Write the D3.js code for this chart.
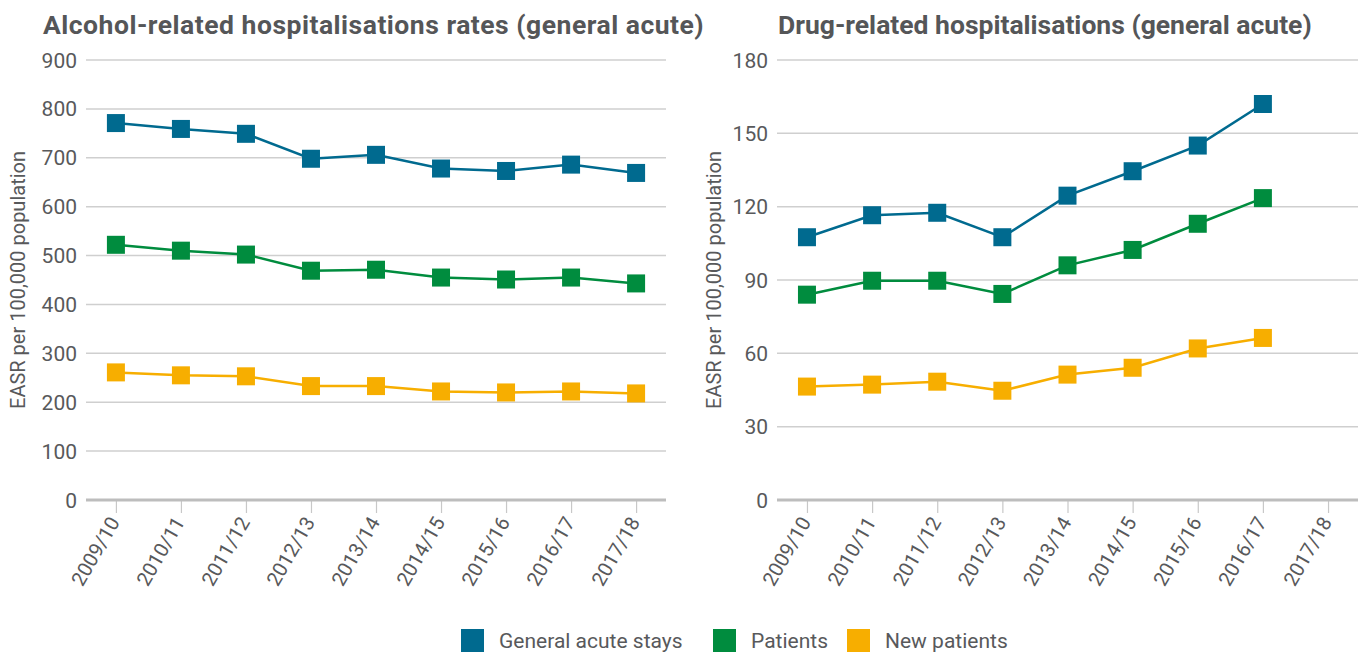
<!DOCTYPE html>
<html>
<head>
<meta charset="utf-8">
<script src="https://cdn.jsdelivr.net/npm/d3@7"></script>
<style>
  body { margin: 0; background: #fff; }
  text { font-family: Roboto, "Noto Sans", sans-serif; fill: #58595b; }
</style>
</head>
<body>
<svg id="svg" width="1363" height="652"></svg>
<script>
var years = ["2009/10", "2010/11", "2011/12", "2012/13", "2013/14", "2014/15", "2015/16", "2016/17", "2017/18"];

var alcoholStays = [771, 759, 749, 698, 706, 678, 673, 686, 669];
var alcoholPatients = [522, 510, 502, 469, 471, 455, 451, 455, 443];
var alcoholNew = [261, 255, 253, 233, 233, 222, 220, 222, 218];

// no 2017/18 figures for drugs
var drugStays = [107.5, 116.5, 117.5, 107.5, 124.5, 134.5, 145, 162];
var drugPatients = [84, 89.7, 89.7, 84.3, 96, 102.3, 113, 123.5];
var drugNew = [46.4, 47.2, 48.4, 44.7, 51.3, 54.1, 62, 66.3];

var alcoholTicks = [0, 100, 200, 300, 400, 500, 600, 700, 800, 900];
var drugTicks = [0, 30, 60, 90, 120, 150, 180];

var seriesNames = ["General acute stays", "Patients", "New patients"];
var colors = ["#006a8f", "#008c3e", "#f7ae00"];

var svg = d3.select("svg");
var plotTop = 60, plotBottom = 500;

function drawPanel(opts) {
    var g = svg.append("g");
    var x = d3.scalePoint().domain(years).range([opts.x0, opts.x1]).padding(0.46);
    var y = d3.scaleLinear().domain([0, opts.max]).range([plotBottom, plotTop]);

    g.append("text")
        .attr("x", opts.titleX)
        .attr("y", 34)
        .style("font-size", "26.5px")
        .style("font-weight", "bold")
        .style("letter-spacing", opts.titleSpacing)
        .style("fill", "#555658")
        .text(opts.title);

    // gridlines
    g.selectAll(".grid")
        .data(opts.ticks.filter(function(d) { return d > 0; }))
        .enter().append("line")
        .attr("x1", opts.x0).attr("x2", opts.x1)
        .attr("y1", function(d) { return y(d); })
        .attr("y2", function(d) { return y(d); })
        .attr("stroke", "#cfcfcf")
        .attr("stroke-width", 1.5);

    g.selectAll(".ylab")
        .data(opts.ticks)
        .enter().append("text")
        .attr("x", opts.x0 - 9)
        .attr("y", function(d) { return y(d); })
        .attr("dy", "0.36em")
        .attr("text-anchor", "end")
        .style("font-size", "21px")
        .text(function(d) { return d; });

    // x axis
    var xAxis = g.append("g")
        .attr("transform", "translate(0," + plotBottom + ")")
        .call(d3.axisBottom(x).tickSize(13).tickPadding(8));
    xAxis.select(".domain").remove();
    xAxis.selectAll(".tick line").attr("stroke", "#c8c8c8").attr("stroke-width", 1.2);
    xAxis.selectAll(".tick text")
        .style("font-size", "20px")
        .style("fill", "#58595b")
        .attr("text-anchor", "end")
        .attr("dy", "0.35em")
        .attr("transform", "translate(0,15) rotate(-60)")
        .attr("x", -4)
        .attr("y", 0);

    g.append("line")
        .attr("x1", opts.x0).attr("x2", opts.x1)
        .attr("y1", plotBottom).attr("y2", plotBottom)
        .attr("stroke", "#bdbdbd")
        .attr("stroke-width", 3);

    g.append("text")
        .attr("transform", "translate(" + opts.labelX + "," + ((plotTop + plotBottom) / 2) + ") rotate(-90)")
        .attr("text-anchor", "middle")
        .style("font-size", "20px")
        .text("EASR per 100,000 population");

    var line = d3.line()
        .x(function(d, i) { return x(years[i]); })
        .y(function(d) { return y(d); });

    opts.series.forEach(function(vals, k) {
        g.append("path")
            .datum(vals)
            .attr("d", line)
            .attr("fill", "none")
            .attr("stroke", colors[k])
            .attr("stroke-width", 2.5);

        g.selectAll(".pt" + k)
            .data(vals)
            .enter().append("rect")
            .attr("x", function(d, i) { return x(years[i]) - 9; })
            .attr("y", function(d) { return y(d) - 9; })
            .attr("width", 18)
            .attr("height", 18)
            .attr("fill", colors[k]);
    });
}

drawPanel({
    title: "Alcohol-related hospitalisations rates (general acute)",
    titleX: 43, titleSpacing: "0.5px", x0: 86, x1: 666, labelX: 25, max: 900,
    ticks: alcoholTicks,
    series: [alcoholStays, alcoholPatients, alcoholNew]
});

drawPanel({
    title: "Drug-related hospitalisations (general acute)",
    titleX: 778, titleSpacing: "0px", x0: 777, x1: 1358, labelX: 721, max: 180,
    ticks: drugTicks,
    series: [drugStays, drugPatients, drugNew]
});

// legend
var legendX = [461, 713, 847];
var legend = svg.selectAll(".legend")
    .data(seriesNames)
    .enter().append("g")
    .attr("transform", function(d, i) { return "translate(" + legendX[i] + ",629)"; });
legend.append("rect")
    .attr("width", 23).attr("height", 23)
    .attr("fill", function(d, i) { return colors[i]; });
legend.append("text")
    .attr("x", 38)
    .attr("y", 19)
    .style("font-size", "21px")
    .text(function(d) { return d; });
</script>
</body>
</html>
